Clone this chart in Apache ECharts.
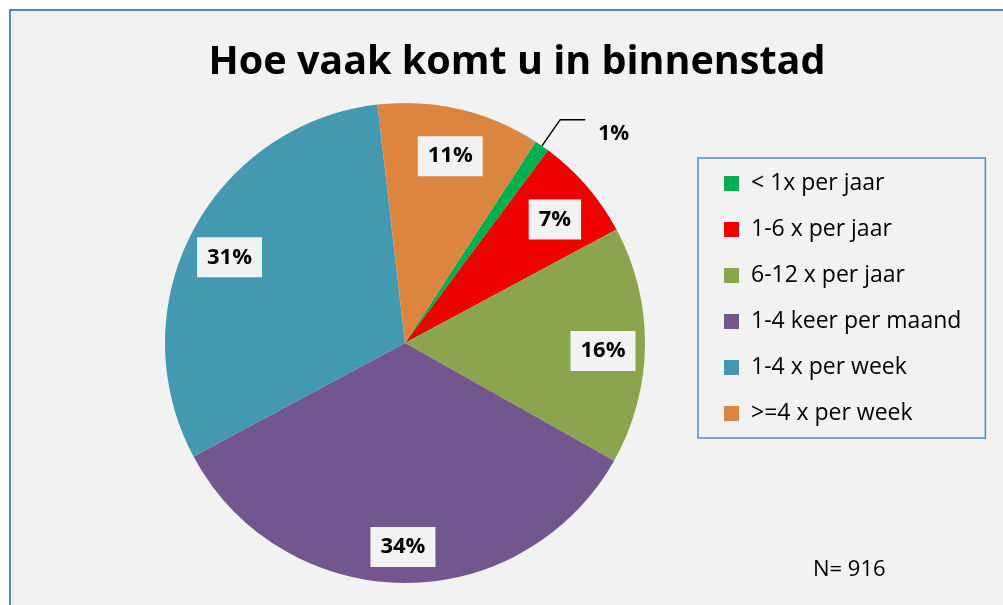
<!DOCTYPE html>
<html>
<head>
<meta charset="utf-8">
<script src="https://cdn.jsdelivr.net/npm/echarts@6/dist/echarts.min.js"></script>
<style>
  html, body { margin: 0; padding: 0; background: #fff; }
  #chart { width: 1003px; height: 605px; }
</style>
</head>
<body>
<div id="chart"></div>
<script>
// frequency categories (clockwise from the green slice)
const categories = ['< 1x per jaar', '1-6 x per jaar', '6-12 x per jaar', '1-4 keer per maand', '1-4 x per week', '>=4 x per week']
const shares = [1, 7, 16, 34, 31, 11]
const colors = ['#00B050', '#EE0000', '#8AA54D', '#72578F', '#4299B0', '#DC853F']
const sampleSize = 916

const chart = echarts.init(document.getElementById('chart'))
const fontFam = '"Open Sans", "Liberation Sans", sans-serif'

const pieData = categories.map((name, i) => ({
  name,
  value: shares[i],
  itemStyle: { color: colors[i] }
}))

// outer pie: coloured slices, only the tiny slice gets an outside label
const mainData = pieData.map((d, i) => ({
  ...d,
  label: i === 0
    ? { show: true, position: 'outside', formatter: '\n{c}%', fontSize: 21, lineHeight: 28, fontWeight: 'bold', color: '#000', fontFamily: fontFam, padding: [0, 0, 0, 8] }
    : { show: false },
  labelLine: i === 0 ? { show: true, length: 32, length2: 25, lineStyle: { color: '#000', width: 1.5 } } : { show: false }
}))

// transparent ring used only to place the boxed labels further out
const labelData = pieData.map((d, i) => ({
  name: d.name,
  value: d.value,
  label: { show: i !== 0 }
}))

chart.setOption({
  backgroundColor: '#fff',
  animation: false,
  title: {
    text: 'Hoe vaak komt u in binnenstad',
    left: 512,
    textAlign: 'center',
    top: 38,
    textStyle: { fontSize: 39.5, fontWeight: 'bold', color: '#000', fontFamily: fontFam }
  },
  graphic: [
    {
      type: 'rect',
      z: -10,
      shape: { x: 10, y: 10, width: 1100, height: 700 },
      style: { fill: '#F2F2F2', stroke: '#5A86C6', lineWidth: 2 }
    },
    {
      type: 'text',
      left: 813,
      top: 559,
      style: { text: 'N= ' + sampleSize, fontSize: 22, fill: '#000', fontFamily: fontFam }
    }
  ],
  legend: {
    orient: 'vertical',
    left: 698,
    top: 158,
    padding: [14, 24, 13, 26],
    borderColor: '#5A86C6',
    borderWidth: 1.5,
    itemWidth: 15,
    itemHeight: 15,
    itemGap: 23,
    icon: 'rect',
    data: categories,
    textStyle: { fontSize: 23, lineHeight: 22, color: '#000', fontFamily: fontFam, padding: [0, 0, 0, 7] }
  },
  series: [
    {
      type: 'pie',
      center: [405, 343],
      radius: [0, 240],
      startAngle: 57,
      clockwise: true,
      avoidLabelOverlap: false,
      itemStyle: { borderWidth: 0 },
      emphasis: { disabled: true },
      data: mainData
    },
    {
      type: 'pie',
      center: [405, 343],
      radius: [150, 240],
      startAngle: 57,
      clockwise: true,
      silent: true,
      legendHoverLink: false,
      avoidLabelOverlap: false,
      itemStyle: { color: 'rgba(0,0,0,0)', borderWidth: 0 },
      label: {
        position: 'inside',
        formatter: '{c}%',
        fontSize: 22,
        lineHeight: 26,
        fontWeight: 'bold',
        color: '#000',
        fontFamily: fontFam,
        backgroundColor: '#F2F2F2',
        padding: [8, 10, 6, 10]
      },
      labelLayout: { dy: 6 },
      labelLine: { show: false },
      emphasis: { disabled: true },
      data: labelData
    }
  ]
})
</script>
</body>
</html>
